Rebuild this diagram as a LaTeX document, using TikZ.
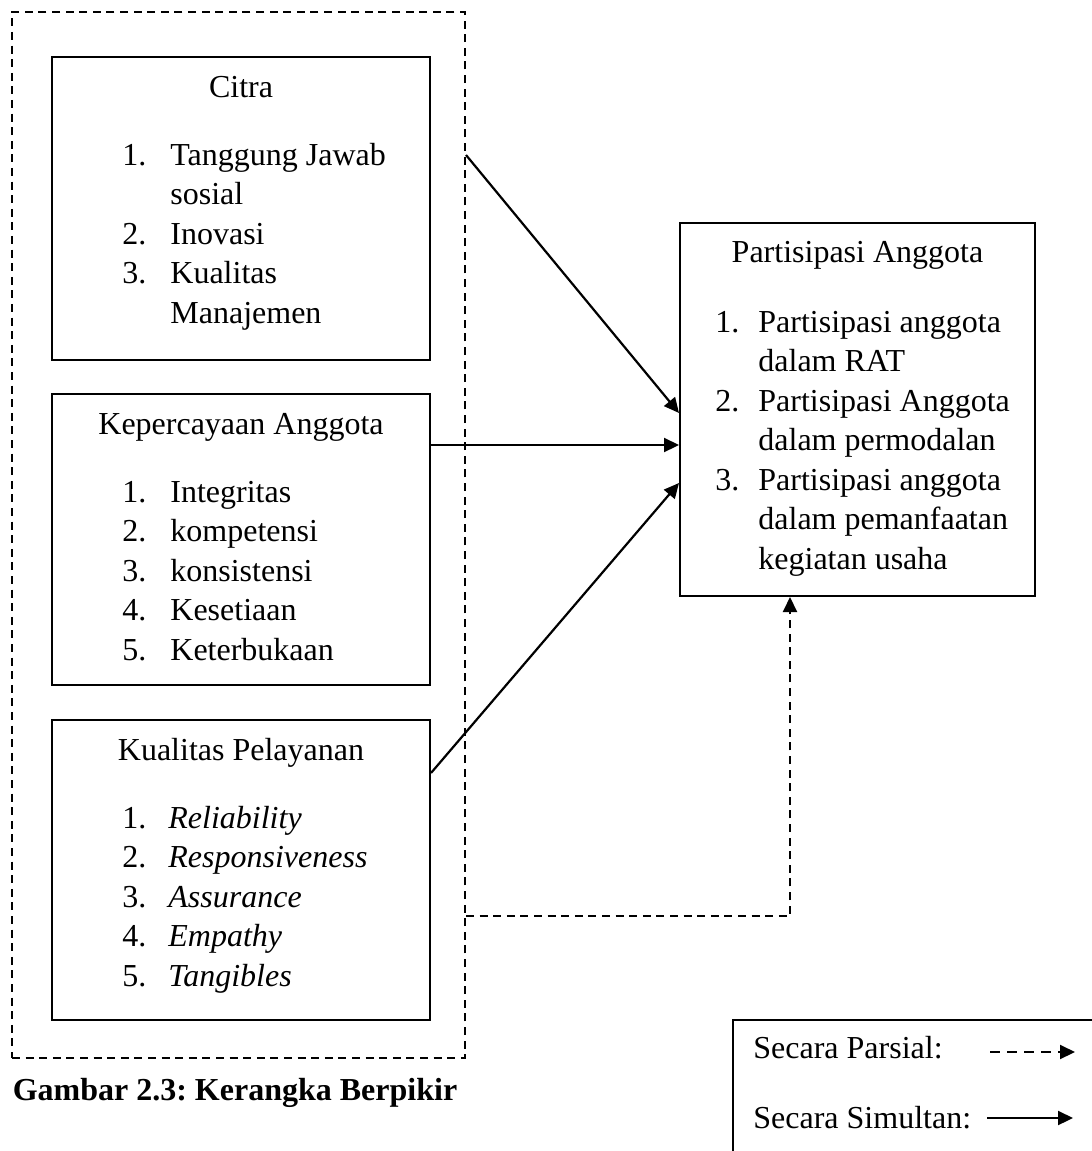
\documentclass[tikz,border=0pt]{standalone}
\usepackage{fontspec}
\setmainfont{Liberation Serif}
\usepackage{array}
\usetikzlibrary{arrows.meta,fit}
\frenchspacing
\begin{document}
\begin{tikzpicture}[x=0.5pt,y=-0.5pt,
  every node/.style={font=\fontsize{16pt}{19.75pt}\selectfont, inner sep=0pt},
  box/.style={draw, line width=1pt, inner sep=0pt},
  grp/.style={draw, line width=1pt, dash pattern=on 4pt off 2.8pt, inner sep=0pt},
  ttl/.style={anchor=base},
  lst/.style={anchor=base west, align=left},
  arr/.style={line width=1.1pt, -{Triangle[length=7.5pt,width=7pt]}},
  darr/.style={line width=1pt, dash pattern=on 4pt off 2.8pt, -{Triangle[length=7.5pt,width=7pt]}},
  ]
\useasboundingbox (0,0) rectangle (1092,1151);
\clip (0,0) rectangle (1092,1151);

% outer dashed group
\node[grp, fit={(12,12) (465,1058)}] (grp) {};

% left boxes
\node[box, fit={(52,57) (430,360)}] (citra) {};
\node[box, fit={(52,394) (430,685)}] (kep) {};
\node[box, fit={(52,720) (430,1020)}] (kual) {};
% right box
\node[box, fit={(680,223) (1035,596)}] (part) {};
% legend box
\node[box, fit={(733,1020) (1110,1170)}] (leg) {};

% titles
\node[ttl] (citraT) at (241,97) {Citra};
\node[ttl] (kepT) at (241,434) {Kepercayaan Anggota};
\node[ttl] (kualT) at (241,760) {Kualitas Pelayanan};
\node[ttl] (partT) at (857.5,262) {Partisipasi Anggota};

% lists
\node[lst] (citraL) at (122,165) {\begin{tabular}[t]{@{}p{24pt}@{}l@{}}
1. & Tanggung Jawab\\
   & sosial\\
2. & Inovasi\\
3. & Kualitas\\
   & Manajemen
\end{tabular}};
\node[lst] (kepL) at (122,502) {\begin{tabular}[t]{@{}p{24pt}@{}l@{}}
1. & Integritas\\
2. & kompetensi\\
3. & konsistensi\\
4. & Kesetiaan\\
5. & Keterbukaan
\end{tabular}};
\node[lst] (kualL) at (122,828) {\begin{tabular}[t]{@{}p{23pt}@{}l@{}}
1. & \textit{Reliability}\\
2. & \textit{Responsiveness}\\
3. & \textit{Assurance}\\
4. & \textit{Empathy}\\
5. & \textit{Tangibles}
\end{tabular}};
\node[lst] (partL) at (715,332) {\begin{tabular}[t]{@{}p{21.5pt}@{}l@{}}
1. & Partisipasi anggota\\
   & dalam RAT\\
2. & Partisipasi Anggota\\
   & dalam permodalan\\
3. & Partisipasi anggota\\
   & dalam pemanfaatan\\
   & kegiatan usaha
\end{tabular}};

% caption
\node[anchor=base, font=\fontsize{16pt}{19.75pt}\selectfont\bfseries] (cap) at (235,1100) {Gambar 2.3: Kerangka Berpikir};

% legend texts
\node[anchor=base west] (legP) at (753,1058) {Secara Parsial:};
\node[anchor=base west] (legS) at (753,1128) {Secara Simultan:};
\coordinate (lp1) at (990,1052);
\coordinate (lp2) at (1075,1052);
\coordinate (ls1) at (987,1118);
\coordinate (ls2) at (1073,1118);
\draw[line width=1pt, dash pattern=on 5pt off 3.5pt, -{Triangle[length=7.5pt,width=7pt]}] (lp1) -- (lp2);
\draw[arr] (ls1) -- (ls2);

% helper levels
\coordinate (y1) at (0,155);
\coordinate (y1t) at (0,413);
\coordinate (y2) at (0,445);
\coordinate (y3) at (0,773);
\coordinate (y3t) at (0,483);
\coordinate (y4) at (0,916);
\coordinate (x4) at (790,0);

% connectors
\draw[arr] (grp.east |- y1) -- (part.west |- y1t);
\draw[arr] (kep.east |- y2) -- (part.west |- y2);
\draw[arr] (kual.east |- y3) -- (part.west |- y3t);
\draw[darr] (grp.east |- y4) -| (part.south -| x4);
\end{tikzpicture}
\end{document}
